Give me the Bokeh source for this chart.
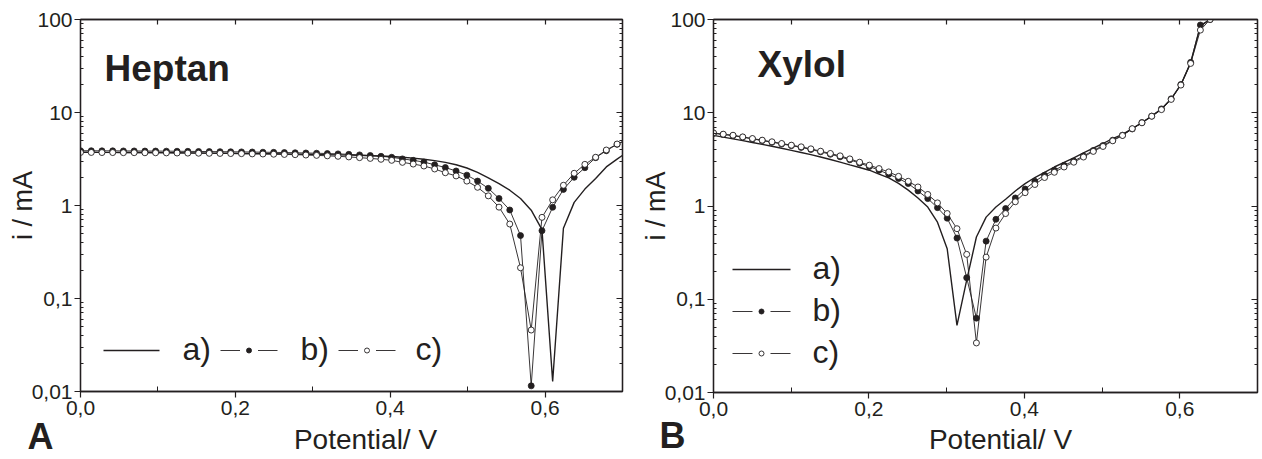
import math
from bokeh.plotting import figure
from bokeh.layouts import GridBox
from bokeh.models import (ColumnDataSource, FixedTicker, LinearAxis, LogAxis,
                          Label, Range1d, CustomJSTickFormatter)
from bokeh.embed import file_html
from bokeh.resources import INLINE

FONT = "Liberation Sans"
INK = "#231f20"

# ---------------- data ----------------
heptan_potential = [0.0, 0.0139, 0.0277, 0.0416, 0.0554, 0.0693, 0.0832, 0.0970, 0.1109, 0.1247,
                    0.1386, 0.1525, 0.1663, 0.1802, 0.1940, 0.2079, 0.2218, 0.2356, 0.2495, 0.2633,
                    0.2772, 0.2911, 0.3049, 0.3188, 0.3326, 0.3465, 0.3604, 0.3742, 0.3881, 0.4019,
                    0.4158, 0.4297, 0.4435, 0.4574, 0.4712, 0.4851, 0.4990, 0.5128, 0.5267, 0.5405,
                    0.5544, 0.5683, 0.5821, 0.5960, 0.6098, 0.6237, 0.6376, 0.6514, 0.6653, 0.6791,
                    0.6930, 0.7069]
heptan_a = [3.74, 3.74, 3.73, 3.73, 3.72, 3.72, 3.71, 3.71, 3.70, 3.69,
            3.68, 3.67, 3.66, 3.65, 3.64, 3.63, 3.62, 3.61, 3.60, 3.59,
            3.57, 3.56, 3.54, 3.52, 3.50, 3.48, 3.46, 3.43, 3.40, 3.36,
            3.30, 3.23, 3.14, 3.04, 2.91, 2.74, 2.53, 2.27, 1.98, 1.72,
            1.46, 1.19, 0.89, 0.55, 0.0128, 0.57, 1.08, 1.50, 1.95, 2.60,
            3.15, 3.80]
heptan_b = [3.88, 3.88, 3.87, 3.87, 3.86, 3.86, 3.85, 3.85, 3.84, 3.83,
            3.82, 3.81, 3.80, 3.79, 3.78, 3.77, 3.76, 3.74, 3.73, 3.71,
            3.69, 3.67, 3.65, 3.62, 3.59, 3.55, 3.50, 3.45, 3.38, 3.30,
            3.17, 3.06, 2.93, 2.74, 2.56, 2.35, 2.12, 1.83, 1.53, 1.19,
            0.895, 0.475, 0.0115, 0.536, 0.957, 1.49, 2.01, 2.55, 3.27, 3.88,
            4.55, 5.15]
heptan_c = [3.72, 3.72, 3.71, 3.71, 3.70, 3.70, 3.69, 3.69, 3.68, 3.67,
            3.66, 3.65, 3.64, 3.63, 3.62, 3.61, 3.59, 3.58, 3.56, 3.54,
            3.52, 3.49, 3.46, 3.42, 3.38, 3.33, 3.27, 3.21, 3.14, 3.06,
            2.91, 2.79, 2.66, 2.47, 2.25, 2.08, 1.83, 1.57, 1.27, 0.96,
            0.632, 0.214, 0.0458, 0.746, 1.15, 1.65, 2.22, 2.77, 3.30, 3.95,
            4.58, 5.15]

xylol_potential = [0.0, 0.0125, 0.0251, 0.0376, 0.0501, 0.0627, 0.0752, 0.0877, 0.1002, 0.1128,
                   0.1253, 0.1378, 0.1504, 0.1629, 0.1754, 0.1880, 0.2005, 0.2130, 0.2255, 0.2381,
                   0.2506, 0.2631, 0.2757, 0.2882, 0.3007, 0.3133, 0.3258, 0.3383, 0.3508, 0.3634,
                   0.3759, 0.3884, 0.4010, 0.4135, 0.4260, 0.4386, 0.4511, 0.4636, 0.4761, 0.4887,
                   0.5012, 0.5137, 0.5263, 0.5388, 0.5513, 0.5639, 0.5764, 0.5889, 0.6014, 0.6140,
                   0.6265, 0.6390]
xylol_a = [5.72, 5.48, 5.25, 5.02, 4.80, 4.58, 4.37, 4.16, 3.95, 3.75,
           3.55, 3.35, 3.15, 2.95, 2.76, 2.59, 2.42, 2.20, 2.00, 1.75,
           1.48, 1.22, 0.975, 0.67, 0.348, 0.0524, 0.16, 0.465, 0.76, 0.975,
           1.18, 1.45, 1.74, 2.02, 2.30, 2.62, 2.93, 3.28, 3.71, 4.17,
           4.68, 5.29, 5.85, 6.75, 7.85, 9.2, 11.0, 14.1, 20.0, 34.5,
           85.0, 100.0]
xylol_b = [6.00, 5.84, 5.68, 5.46, 5.24, 5.03, 4.83, 4.63, 4.44, 4.25,
           4.04, 3.81, 3.59, 3.37, 3.13, 2.88, 2.65, 2.42, 2.19, 1.97,
           1.74, 1.45, 1.20, 0.96, 0.74, 0.453, 0.170, 0.0627, 0.42, 0.72,
           0.94, 1.22, 1.52, 1.84, 2.14, 2.42, 2.73, 3.04, 3.44, 3.94,
           4.45, 5.08, 5.75, 6.70, 7.85, 9.2, 11.0, 14.1, 20.1, 34.7,
           87.3, 100.0]
xylol_c = [6.08, 5.89, 5.74, 5.51, 5.29, 5.08, 4.88, 4.68, 4.49, 4.31,
           4.10, 3.87, 3.66, 3.45, 3.20, 2.95, 2.74, 2.52, 2.32, 2.08,
           1.84, 1.60, 1.33, 1.08, 0.83, 0.571, 0.303, 0.034, 0.283, 0.58,
           0.83, 1.11, 1.39, 1.70, 2.02, 2.30, 2.62, 2.95, 3.35, 3.85,
           4.35, 5.00, 5.70, 6.75, 7.80, 9.18, 10.8, 13.9, 19.8, 33.8,
           77.0, 100.0]

series_labels = ["a)", "b)", "c)"]
panel_titles = ["Heptan", "Xylol"]
panel_letters = ["A", "B"]
x_axis_title = "Potential/ V"
y_axis_title = "i / mA"

x_tick_values = [0.0, 0.2, 0.4, 0.6]
x_minor_values = [0.1, 0.3, 0.5]
x_top_values = [0.1, 0.2, 0.3, 0.4, 0.5, 0.6]
y_tick_values = [0.01, 0.1, 1, 10, 100]
y_minor_values = [m * 10.0 ** e for e in range(-2, 2) for m in range(2, 10)]

X_RANGE = (0.0, 0.7)
Y_RANGE = (0.01, 100.0)
BASE_SHIFT = 12  # alphabetic-baseline correction for Label placement

X_FMT = "return tick.toFixed(1).replace('.', ',');"
Y_FMT = "return (tick >= 1 ? tick.toFixed(0) : String(tick)).replace('.', ',');"
NO_FMT = "return '';"


def frame_x(px, fw):
    return X_RANGE[0] + px / fw * (X_RANGE[1] - X_RANGE[0])


def frame_y(py, fh):
    lo, hi = math.log10(Y_RANGE[0]), math.log10(Y_RANGE[1])
    return 10 ** (lo + py / fh * (hi - lo))


def no_frame_align(p):
    try:
        p.frame_align = False
    except Exception:
        pass


def style_axis(ax):
    ax.axis_line_color = INK
    ax.axis_line_width = 1.3
    ax.major_tick_line_color = INK
    ax.major_tick_line_width = 1.2
    ax.minor_tick_line_color = INK
    ax.minor_tick_line_width = 1.0
    ax.major_label_text_font = FONT
    ax.major_label_text_color = INK
    ax.major_label_text_font_size = "21px"
    ax.axis_label_text_font = FONT
    ax.axis_label_text_color = INK
    ax.axis_label_text_font_style = "normal"


def add_key(p, fw, fh, kind, x_left, x_right, y_px, text_px, label):
    y = frame_y(y_px, fh)
    if kind == 0:
        p.line([frame_x(x_left, fw), frame_x(x_right, fw)], [y, y], line_color=INK, line_width=1.4)
    else:
        mid = (x_left + x_right) / 2.0
        gap = 9
        p.line([frame_x(x_left, fw), frame_x(mid - gap, fw)], [y, y], line_color=INK, line_width=0.9)
        p.line([frame_x(mid + gap, fw), frame_x(x_right, fw)], [y, y], line_color=INK, line_width=0.9)
        p.scatter([frame_x(mid, fw)], [y], size=5,
                  fill_color=INK if kind == 1 else "white", line_color=INK, line_width=0.9)
    p.add_layout(Label(x=text_px, y=y_px + 2, x_units="screen", y_units="screen", text=label,
                       text_font=FONT, text_font_size="32px", text_color=INK,
                       text_baseline="middle", text_align="left"))


def make_panel(potential, a, b, c, title, title_pos, borders, frame_size, keys):
    bl, br, bb = borders
    fw, fh = frame_size
    p = figure(width=631, height=459, x_range=Range1d(*X_RANGE), y_range=Range1d(*Y_RANGE),
               y_axis_type="log", output_backend="svg", toolbar_location=None,
               min_border_left=bl, min_border_right=br, min_border_top=19, min_border_bottom=bb,
               outline_line_color=INK, outline_line_width=1.3,
               background_fill_color="white", border_fill_color="white")
    no_frame_align(p)
    p.xgrid.visible = False
    p.ygrid.visible = False

    xa = p.xaxis[0]
    xa.ticker = FixedTicker(ticks=x_tick_values, minor_ticks=x_minor_values)
    xa.formatter = CustomJSTickFormatter(code=X_FMT)
    style_axis(xa)
    xa.major_tick_out = 6
    xa.major_tick_in = 0
    xa.minor_tick_out = 0
    xa.minor_tick_in = 5
    xa.major_label_standoff = 3

    ya = p.yaxis[0]
    ya.ticker = FixedTicker(ticks=y_tick_values, minor_ticks=y_minor_values)
    ya.formatter = CustomJSTickFormatter(code=Y_FMT)
    style_axis(ya)
    ya.major_tick_out = 6
    ya.major_tick_in = 0
    ya.minor_tick_out = 0
    ya.minor_tick_in = 3
    ya.major_label_standoff = 2
    ya.axis_label = y_axis_title
    ya.axis_label_text_font_size = "27px"
    ya.axis_label_standoff = -9

    top = LinearAxis(ticker=FixedTicker(ticks=x_top_values, minor_ticks=[]),
                     formatter=CustomJSTickFormatter(code=NO_FMT),
                     major_tick_in=5, major_tick_out=0, minor_tick_in=0, minor_tick_out=0,
                     major_label_standoff=0)
    style_axis(top)
    top.major_label_text_font_size = "2px"
    p.add_layout(top, "above")

    right = LogAxis(ticker=FixedTicker(ticks=y_tick_values, minor_ticks=y_minor_values),
                    formatter=CustomJSTickFormatter(code=NO_FMT),
                    major_tick_in=6, major_tick_out=0, minor_tick_in=3, minor_tick_out=0,
                    major_label_standoff=0)
    style_axis(right)
    right.major_label_text_font_size = "2px"
    p.add_layout(right, "right")

    src = ColumnDataSource(dict(x=potential, a=a, b=b, c=c))
    p.line("x", "a", source=src, line_color=INK, line_width=1.4)
    p.line("x", "b", source=src, line_color=INK, line_width=0.9)
    p.scatter("x", "b", source=src, size=6, fill_color=INK, line_color=INK, line_width=0.8)
    p.line("x", "c", source=src, line_color=INK, line_width=0.9)
    p.scatter("x", "c", source=src, size=6, fill_color="white", line_color=INK, line_width=0.9)

    for kind, (x_left, x_right, y_px, text_px) in enumerate(keys):
        add_key(p, fw, fh, kind, x_left, x_right, y_px, text_px, series_labels[kind])

    tx, ty = title_pos
    p.add_layout(Label(x=tx, y=ty + BASE_SHIFT, x_units="screen", y_units="screen", text=title,
                       text_font=FONT, text_font_size="37px", text_font_style="bold",
                       text_color=INK, text_baseline="alphabetic"))
    return p


keys_heptan = [(23, 79, 41, 102), (140, 197, 41, 220), (258, 315, 41, 335)]
keys_xylol = [(19, 77, 123, 99), (19, 77, 81, 99), (19, 77, 39, 99)]

pA = make_panel(heptan_potential, heptan_a, heptan_b, heptan_c, panel_titles[0], (24, 311),
                (80, 9, 68), (542, 372), keys_heptan)
pB = make_panel(xylol_potential, xylol_a, xylol_b, xylol_c, panel_titles[1], (44, 316),
                (82, 5, 67), (544, 373), keys_xylol)

# transparent overlay canvas carrying the texts that sit outside the plot frames
overlay = figure(width=1262, height=459, x_range=Range1d(0, 1), y_range=Range1d(0, 1),
                 output_backend="svg", toolbar_location=None,
                 x_axis_location=None, y_axis_location=None, min_border=0,
                 background_fill_alpha=0, border_fill_alpha=0, outline_line_color=None)
no_frame_align(overlay)
overlay.xgrid.visible = False
overlay.ygrid.visible = False
for letter, lx, ly in [(panel_letters[0], 27, 11), (panel_letters[1], 659, 12)]:
    overlay.add_layout(Label(x=lx, y=ly + BASE_SHIFT, x_units="screen", y_units="screen", text=letter,
                             text_font=FONT, text_font_size="36px", text_font_style="bold",
                             text_color=INK, text_baseline="alphabetic"))
for cx in (365, 1000):
    overlay.add_layout(Label(x=cx, y=8 + BASE_SHIFT, x_units="screen", y_units="screen",
                             text=x_axis_title, text_font=FONT, text_font_size="28px",
                             text_color=INK, text_baseline="alphabetic", text_align="center"))

layout = GridBox(children=[(pA, 0, 0), (pB, 0, 1), (overlay, 0, 0, 1, 2)], spacing=0)
open("out.html", "w").write(file_html(layout, INLINE))
